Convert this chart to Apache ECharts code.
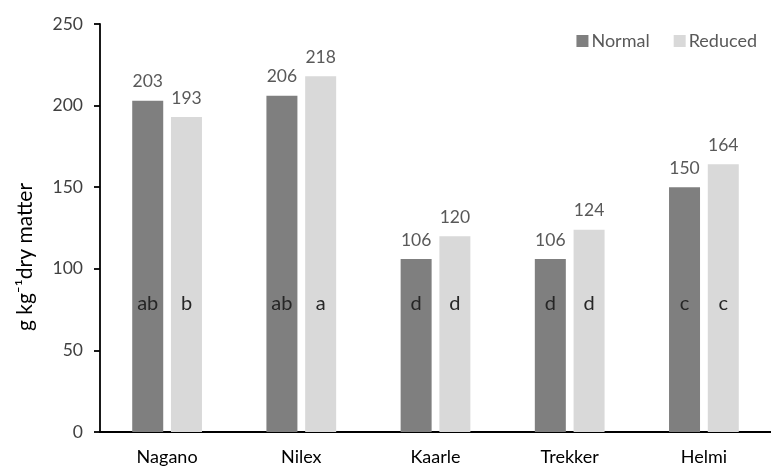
<!DOCTYPE html>
<html>
<head>
<meta charset="utf-8">
<script src="https://cdn.jsdelivr.net/npm/echarts@6/dist/echarts.min.js"></script>
<style>
  html, body { margin: 0; padding: 0; background: #ffffff; }
  #chart { width: 771px; height: 466px; }
</style>
</head>
<body>
<div id="chart"></div>
<script>
// Cultivars on the category axis
const categories = ['Nagano', 'Nilex', 'Kaarle', 'Trekker', 'Helmi'];
// Content, g per kg dry matter
const normalValues = [203, 206, 106, 106, 150];
const reducedValues = [193, 218, 120, 124, 164];
// Significance letters shown inside each bar
const normalLetters = ['ab', 'ab', 'd', 'd', 'c'];
const reducedLetters = ['b', 'a', 'd', 'd', 'c'];
// Value axis range
const yMin = 0;
const yMax = 250;
const yStep = 50;

const FONT = 'Lato';
const BAR_W = 31;
const BAR_GAP = '25%';

const chart = echarts.init(document.getElementById('chart'), null, { renderer: 'canvas' });

function valueSeries(name, values, color) {
  return {
    name: name,
    type: 'bar',
    xAxisIndex: 0,
    data: values,
    barWidth: BAR_W,
    barGap: BAR_GAP,
    itemStyle: { color: color },
    label: {
      show: true,
      position: 'top',
      distance: 10,
      color: '#595959',
      fontFamily: FONT,
      fontSize: 17.5
    },
    emphasis: { disabled: true }
  };
}

function letterSeries(values, letters) {
  return {
    type: 'bar',
    xAxisIndex: 1,
    data: values,
    barWidth: BAR_W,
    barGap: BAR_GAP,
    silent: true,
    itemStyle: { color: 'rgba(0,0,0,0)' },
    label: {
      show: true,
      position: 'insideBottom',
      distance: 118,
      color: '#262626',
      fontFamily: FONT,
      fontSize: 20,
      formatter: (p) => letters[p.dataIndex]
    },
    emphasis: { disabled: true }
  };
}

chart.setOption({
  animation: false,
  backgroundColor: '#ffffff',
  grid: { left: 100, right: -8, top: 24, bottom: 33, containLabel: false },
  legend: {
    data: ['Normal', 'Reduced'],
    right: 9,
    top: 27,
    itemWidth: 12,
    itemHeight: 12,
    itemGap: 24,
    icon: 'rect',
    textStyle: { color: '#595959', fontFamily: FONT, fontSize: 18, padding: [0, 0, 0, -2] }
  },
  xAxis: [
    {
      type: 'category',
      data: categories,
      axisLine: { lineStyle: { color: '#000000', width: 1.8 } },
      axisTick: { show: false },
      axisLabel: { color: '#000000', fontFamily: FONT, fontSize: 18, margin: 16 },
      splitLine: { show: false }
    },
    {
      type: 'category',
      data: categories,
      show: false
    }
  ],
  yAxis: {
    type: 'value',
    min: yMin,
    max: yMax,
    interval: yStep,
    name: 'g kg\u207B\u00B9dry matter',
    nameLocation: 'middle',
    nameGap: 64,
    nameTextStyle: { color: '#000000', fontFamily: FONT, fontSize: 21, padding: [0, 58, 0, 0] },
    axisLine: { show: true, lineStyle: { color: '#000000', width: 1.8 } },
    axisTick: { show: true, length: 6, lineStyle: { color: '#000000', width: 1.8 } },
    axisLabel: { color: '#404040', fontFamily: FONT, fontSize: 17.5, margin: 17 },
    splitLine: { show: false }
  },
  series: [
    valueSeries('Normal', normalValues, '#7f7f7f'),
    valueSeries('Reduced', reducedValues, '#d9d9d9'),
    letterSeries(normalValues, normalLetters),
    letterSeries(reducedValues, reducedLetters)
  ]
});
</script>
</body>
</html>
